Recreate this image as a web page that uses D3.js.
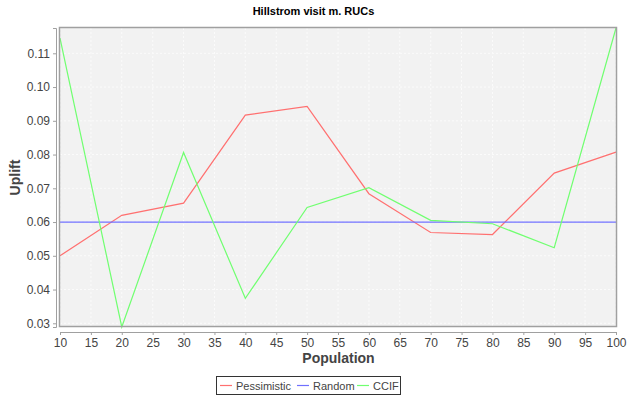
<!DOCTYPE html>
<html>
<head>
<meta charset="utf-8">
<script src="https://cdn.jsdelivr.net/npm/d3@7"></script>
<style>
  body { margin: 0; background: #fff; }
  text { font-family: "Liberation Sans", Arial, sans-serif; }
</style>
</head>
<body>
<div id="chart"></div>
<script>
// data
var population = [10, 20, 30, 40, 50, 60, 70, 80, 90, 100];
var pessimistic = [0.0500, 0.0620, 0.0656, 0.0917, 0.0943, 0.0684, 0.0569, 0.0563, 0.0745, 0.0807];
var random = [0.06, 0.06, 0.06, 0.06, 0.06, 0.06, 0.06, 0.06, 0.06, 0.06];
var ccif = [0.1145, 0.0289, 0.0806, 0.0374, 0.0643, 0.0702, 0.0605, 0.0595, 0.0524, 0.1175];
var xTicks = [10, 15, 20, 25, 30, 35, 40, 45, 50, 55, 60, 65, 70, 75, 80, 85, 90, 95, 100];
var yTicks = [0.03, 0.04, 0.05, 0.06, 0.07, 0.08, 0.09, 0.10, 0.11];
var seriesNames = ["Pessimistic", "Random", "CCIF"];
var seriesColors = ["#ff7070", "#7070ff", "#70ff70"];

var W = 627, H = 402;
var margin = { top: 28, right: 10, bottom: 75, left: 60 };
var width = W - margin.left - margin.right;
var height = H - margin.top - margin.bottom;

var svg = d3.select("#chart").append("svg")
    .attr("width", W)
    .attr("height", H);

var g = svg.append("g")
    .attr("transform", `translate(${margin.left},${margin.top})`);

var x = d3.scaleLinear().domain([10, 100]).range([0, width - 1]);
var y = d3.scaleLinear().domain([0.0289, 0.1175]).range([height, 0]);

// plot background
g.append("rect")
    .attr("width", width)
    .attr("height", height)
    .attr("fill", "#f2f2f2");

// grid lines (barely visible)
g.append("g").selectAll("line")
    .data(xTicks)
    .join("line")
    .attr("x1", d => x(d)).attr("x2", d => x(d))
    .attr("y1", 0).attr("y2", height)
    .attr("stroke", "#fbfbfb")
    .attr("stroke-dasharray", "2,2");
g.append("g").selectAll("line")
    .data(yTicks)
    .join("line")
    .attr("x1", 0).attr("x2", width)
    .attr("y1", d => y(d)).attr("y2", d => y(d))
    .attr("stroke", "#fbfbfb")
    .attr("stroke-dasharray", "2,2");

// series lines
var allSeries = [pessimistic, random, ccif];
var line = d3.line()
    .x((d, i) => x(population[i]))
    .y(d => y(d));

allSeries.forEach(function (s, k) {
    g.append("path")
        .datum(s)
        .attr("fill", "none")
        .attr("stroke", seriesColors[k])
        .attr("stroke-width", 1.2)
        .attr("d", line);
});

// plot border
g.append("rect")
    .attr("x", -0.5).attr("y", -0.5)
    .attr("width", width).attr("height", height)
    .attr("fill", "none")
    .attr("stroke", "#a0a0a0")
    .attr("stroke-width", 1.5);

// X axis (offset from plot like jfreechart)
var xAxis = g.append("g")
    .attr("transform", `translate(0, ${height + 5})`)
    .call(d3.axisBottom(x).tickValues(xTicks).tickSize(3).tickPadding(3).tickFormat(d3.format("d")));
xAxis.selectAll("text")
    .style("font-size", "12px")
    .attr("fill", "#444");

// Y axis
var yAxis = g.append("g")
    .attr("transform", "translate(-4, 0)")
    .call(d3.axisLeft(y).tickValues(yTicks).tickSize(3).tickPadding(3).tickFormat(d3.format(".2f")));
yAxis.selectAll("text")
    .style("font-size", "12px")
    .attr("fill", "#444");

svg.selectAll(".domain, .tick line")
    .attr("stroke", "#a0a0a0");

// title
svg.append("text")
    .attr("x", W / 2)
    .attr("y", 15)
    .attr("text-anchor", "middle")
    .style("font-size", "11px")
    .style("font-weight", "bold")
    .text("Hillstrom visit m. RUCs");

// axis labels
svg.append("text")
    .attr("x", margin.left + width / 2)
    .attr("y", 363)
    .attr("text-anchor", "middle")
    .style("font-size", "14px")
    .style("font-weight", "bold")
    .attr("fill", "#444")
    .text("Population");

svg.append("text")
    .attr("transform", `translate(20, ${margin.top + height / 2}) rotate(-90)`)
    .attr("text-anchor", "middle")
    .style("font-size", "14px")
    .style("font-weight", "bold")
    .attr("fill", "#444")
    .text("Uplift");

// legend
var legend = svg.append("g");
legend.append("rect")
    .attr("x", 216.5).attr("y", 376.5)
    .attr("width", 184).attr("height", 18)
    .attr("fill", "#fff")
    .attr("stroke", "#333");

var legendX = [220, 297, 357];
seriesNames.forEach(function (name, k) {
    legend.append("line")
        .attr("x1", legendX[k]).attr("x2", legendX[k] + 12)
        .attr("y1", 385.5).attr("y2", 385.5)
        .attr("stroke", seriesColors[k])
        .attr("stroke-width", 1.2);
    legend.append("text")
        .attr("x", legendX[k] + 16)
        .attr("y", 389.5)
        .style("font-size", "11px")
        .attr("fill", "#444")
        .text(name);
});
</script>
</body>
</html>
